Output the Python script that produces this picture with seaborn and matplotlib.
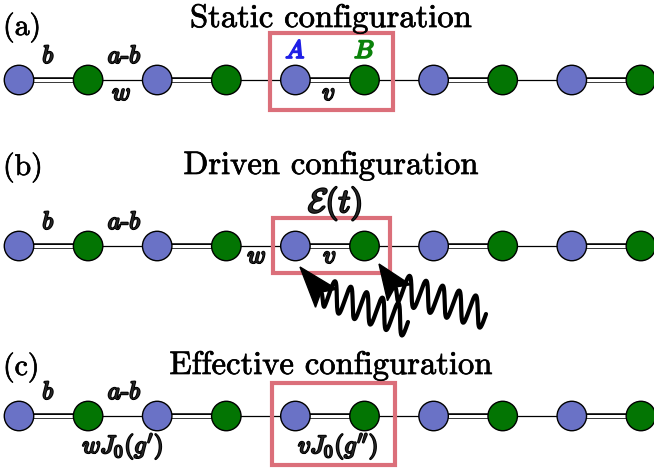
import numpy as np
import pandas as pd
import matplotlib
matplotlib.use("Agg")
import matplotlib.pyplot as plt
import matplotlib.patheffects as pe
from matplotlib.patches import Rectangle, Polygon
import seaborn as sns

# ---- chain content ----------------------------------------------------------
sublattice = ["A", "B"] * 5                      # ten sites, alternating A/B
bond_kind = ["double", "single"] * 4 + ["double"]  # intra-cell double, inter-cell single
panel_tags = ["(a)", "(b)", "(c)"]
panel_titles = ["Static configuration", "Driven configuration", "Effective configuration"]
upper_labels = [r"$b$", r"$a$-$b$"]               # above bonds 0 and 1
lower_labels_a = {1: r"$w$", 4: r"$v$"}
lower_labels_b = {3: r"$w$", 4: r"$v$"}
lower_labels_c = {1: r"$wJ_0(g')$", 4: r"$vJ_0(g'')$"}
cell_labels = [r"$A$", r"$B$"]
field_label = r"$\mathcal{E}(t)$"

# ---- style ------------------------------------------------------------------
sns.set_theme(style="white")
plt.rcParams["mathtext.fontset"] = "cm"
plt.rcParams["font.family"] = ["cmr10", "DejaVu Serif"]
plt.rcParams["axes.unicode_minus"] = False

BLUE = "#6a72c6"
GREEN = "#037503"
BOX = "#db6f7a"
LBL_BLUE = "#1f1fe6"
LBL_GREEN = "#0a820a"

fig = plt.figure(figsize=(6.54, 4.68), dpi=100)
ax = fig.add_axes([0, 0, 1, 1])

x0, dx = 19.0, 69.1
row_y = [80.0, 246.0, 416.0]
xs = x0 + dx * np.arange(len(sublattice))


def bold(c, w=1.4):
    return [pe.withStroke(linewidth=w, foreground=c)]


rows = []
for r, y in enumerate(row_y):
    for i, s in enumerate(sublattice):
        rows.append({"row": r, "x": xs[i], "y": y, "site": s})
sites = pd.DataFrame(rows)

# bonds
for y in row_y:
    for i, kind in enumerate(bond_kind):
        bx = [xs[i], xs[i + 1]]
        if kind == "double":
            ax.plot(bx, [y, y], color="black", lw=4.0, zorder=1, solid_capstyle="butt")
            ax.plot(bx, [y, y], color="white", lw=2.2, zorder=1.1, solid_capstyle="butt")
        else:
            ax.plot(bx, [y, y], color="black", lw=0.9, zorder=1)

# sites
sns.scatterplot(data=sites, x="x", y="y", hue="site",
                palette={"A": BLUE, "B": GREEN}, s=450, edgecolor="black",
                linewidth=1.0, legend=False, zorder=3, ax=ax)
ax.set_xlim(0, 654)
ax.set_ylim(468, 0)
ax.axis("off")

# boxes around the highlighted unit cell
boxes = [(270, 33, 123, 77), (273, 218, 117, 55), (272, 383, 123, 82)]
for bx, by, bw, bh in boxes:
    ax.add_patch(Rectangle((bx, by), bw, bh, fill=False, edgecolor=BOX,
                           lw=3.0, zorder=2))

# panel tags and titles
tag_base = [35, 175, 375]
title_base = [27, 174, 374]
for r in range(3):
    ax.text(3, tag_base[r], panel_tags[r], fontsize=21.5, ha="left", va="baseline",
            color="black", path_effects=bold("black", 0.5))
    ax.text(331, title_base[r], panel_titles[r], fontsize=23.5, ha="center",
            va="baseline", color="black", path_effects=bold("black", 0.5))

# bond labels
mid = (xs[:-1] + xs[1:]) / 2
fs = 18
for r, y in enumerate(row_y):
    ax.text(mid[0] - 5, y - 17, upper_labels[0], fontsize=fs, ha="center",
            va="baseline", path_effects=bold("black"))
    ax.text(mid[1] + 2, y - 17, upper_labels[1], fontsize=fs, ha="center",
            va="baseline", path_effects=bold("black"))

for k, t in lower_labels_a.items():
    ax.text(mid[k] - 1, row_y[0] + 20, t, fontsize=fs, ha="center", va="baseline",
            path_effects=bold("black"))
for k, t in lower_labels_b.items():
    ax.text(mid[k] - (4 if k == 3 else 0), row_y[1] + 17, t, fontsize=fs,
            ha="center", va="baseline", path_effects=bold("black"))
for k, t in lower_labels_c.items():
    ax.text(mid[k] + (0 if k == 1 else 8), row_y[2] + 37, t, fontsize=fs,
            ha="center", va="baseline", path_effects=bold("black"))

# sublattice labels in the static panel
ax.text(xs[4], row_y[0] - 22, cell_labels[0], fontsize=fs, ha="center",
        va="baseline", color=LBL_BLUE, path_effects=bold(LBL_BLUE))
ax.text(xs[5], row_y[0] - 22, cell_labels[1], fontsize=fs, ha="center",
        va="baseline", color=LBL_GREEN, path_effects=bold(LBL_GREEN))

# driving field label
ax.text(335, 212, field_label, fontsize=24, ha="center", va="baseline",
        path_effects=bold("black", 1.6))


# wavy arrows pointing at the driven sites
def wavy_arrow(tip, notch, wave_end, periods=5.5, amp=15.0):
    tip = np.asarray(tip, float)
    notch = np.asarray(notch, float)
    end = np.asarray(wave_end, float)
    u = notch - tip
    L = np.linalg.norm(u)
    u /= L
    n = np.array([-u[1], u[0]])
    head_len, half_w = L * 1.25, 14.0
    back = tip + head_len * u
    head = [tip, back + half_w * n, notch, back - half_w * n]
    ax.add_patch(Polygon(head, closed=True, facecolor="black", edgecolor="black",
                         lw=1.0, zorder=5))
    d = end - notch
    D = np.linalg.norm(d)
    e = d / D
    m = np.array([-0.15, 1.0])
    m /= np.linalg.norm(m)
    t = np.linspace(0, 1, 400)
    ramp = np.clip(t / 0.06, 0, 1)
    off = amp * ramp * np.sin(2 * np.pi * periods * t)
    pts = notch[None, :] + np.outer(t * D, e) + np.outer(off, m)
    ax.plot(pts[:, 0], pts[:, 1], color="black", lw=3.0, zorder=5,
            solid_capstyle="round")


wavy_arrow((300, 267), (321, 292), (408, 322))
wavy_arrow((379, 264), (395, 287), (486, 314))

fig.savefig("out.png", dpi=100, facecolor="white")
